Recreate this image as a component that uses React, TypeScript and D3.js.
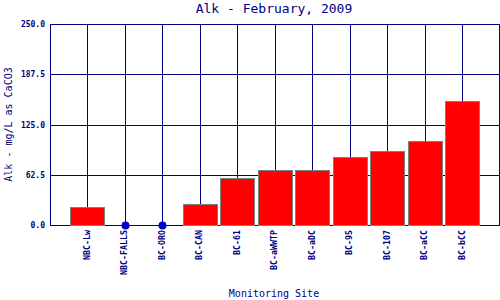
import React from "react";
import * as d3 from "d3";

const sites = ["NBC-Lw", "NBC-FALLS", "BC-ORO", "BC-CAN", "BC-61", "BC-aWWTP", "BC-aDC", "BC-95", "BC-107", "BC-aCC", "BC-bCC"];
const alk = [22.0, 0, 0, 25.7, 58.0, 68.0, 68.0, 84.2, 91.5, 104.1, 153.9];
const yTicks = [0, 62.5, 125, 187.5, 250];

const W = 500, H = 300;
const left = 50, right = 499.5, top = 24, bottom = 225;
const navy = "#000080";
const mono = "'DejaVu Sans Mono', 'Liberation Mono', monospace";

export default function App() {
  const x = d3.scalePoint<string>().domain(sites).range([left, right]).padding(1);
  const y = d3.scaleLinear().domain([0, 250]).range([bottom, top]);
  const barW = 34;
  return (
    <div style={{ position: "absolute", left: 0, top: 0 }}>
      <svg width={W} height={H} style={{ display: "block", background: "#fff" }}>
        <text x={274} y={13} textAnchor="middle" fontFamily={mono} fontSize={13} fill={navy}>
          Alk - February, 2009
        </text>
        {yTicks.map((t) => (
          <line key={"h" + t} x1={left} x2={right} y1={Math.round(y(t)) + 0.5} y2={Math.round(y(t)) + 0.5} stroke={navy} strokeWidth={1} />
        ))}
        {sites.map((s) => (
          <line key={"v" + s} x1={Math.round(x(s)!) + 0.5} x2={Math.round(x(s)!) + 0.5} y1={top} y2={bottom} stroke={navy} strokeWidth={1} />
        ))}
        <rect x={left + 0.5} y={top + 0.5} width={right - left - 0.5} height={bottom - top} fill="none" stroke={navy} strokeWidth={1} />
        {sites.map((s, i) =>
          alk[i] > 0 ? (
            <rect key={"b" + s} x={Math.round(x(s)! - barW / 2) + 0.5} y={Math.round(y(alk[i])) + 0.5} width={barW} height={Math.round(y(0)) - Math.round(y(alk[i]))} fill="#ff0000" stroke="#808080" strokeWidth={1} />
          ) : (
            <circle key={"c" + s} cx={Math.round(x(s)!) + 0.5} cy={y(0) + 0.5} r={4} fill="#0000cc" />
          )
        )}
        {yTicks.map((t) => (
          <text key={"yt" + t} x={45} y={y(t) + 0.5} textAnchor="end" dominantBaseline="central" fontFamily={mono} fontSize={8} fontWeight="bold" fill={navy}>
            {t.toFixed(1)}
          </text>
        ))}
        {sites.map((s) => (
          <text key={"xt" + s} transform={`translate(${x(s)! - 0.5},230) rotate(-90)`} textAnchor="end" dominantBaseline="central" fontFamily={mono} fontSize={8.3} fontWeight="bold" fill={navy}>
            {s}
          </text>
        ))}
        <text transform={`translate(8,${(top + bottom) / 2}) rotate(-90)`} textAnchor="middle" dominantBaseline="central" fontFamily={mono} fontSize={10} fill={navy}>
          Alk - mg/L as CaCO3
        </text>
        <text x={274} y={297} textAnchor="middle" fontFamily={mono} fontSize={10} fill={navy}>
          Monitoring Site
        </text>
      </svg>
    </div>
  );
}
